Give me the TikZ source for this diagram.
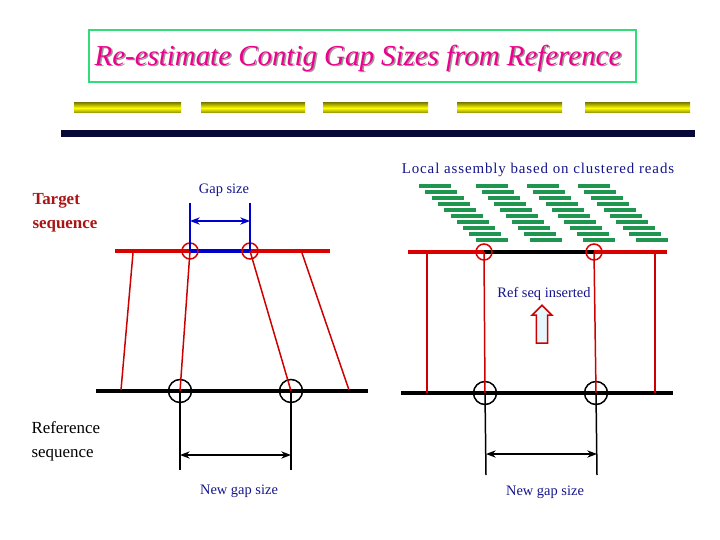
\documentclass[tikz,border=0pt]{standalone}
\usepackage{fontspec}
\setmainfont{Liberation Serif}
\usetikzlibrary{arrows.meta,shapes.arrows}
\definecolor{navy}{RGB}{20,20,140}
\definecolor{darkred}{RGB}{170,20,20}
\definecolor{readgreen}{RGB}{30,150,80}
\definecolor{titlegreen}{RGB}{50,220,120}
\tikzset{
  contig/.style={red!85!black,line width=4pt},
  refline/.style={black,line width=4pt},
  link/.style={red!80!black,line width=1.5pt},
  redring/.style={circle,draw=red!85!black,line width=1.5pt,minimum size=16bp,inner sep=0pt},
  blackring/.style={circle,draw=black,line width=1.5pt,minimum size=23bp,inner sep=0pt},
  label/.style={text=navy,font=\fontsize{14.5}{16}\selectfont},
  gap/.style={<->,>=Stealth}
}
\begin{document}
\begin{tikzpicture}[x=1bp,y=-1bp]
\useasboundingbox (0,0) rectangle (720,540);
% title
\node[draw=titlegreen,line width=2.5pt,minimum width=547bp,minimum height=52bp] (title) at (362.5,56) {};
\node[text=black!40,font=\fontsize{29}{30}\selectfont\itshape] at (359.5,59) {Re-estimate Contig Gap Sizes from Reference};
\node[text=magenta,font=\fontsize{29}{30}\selectfont\itshape] (titletext) at (358,58) {Re-estimate Contig Gap Sizes from Reference};
% yellow contigs and navy reference
\foreach \a/\b in {74/181,201/305,323/428,457/562,585/690}
  \shade[top color=yellow!55!black,bottom color=yellow!55!black,middle color=yellow] (\a,103) rectangle (\b,113);
\fill[navy!40!black] (61,130) rectangle (695,137);
% left panel
\node[text=darkred,font=\fontsize{17}{24}\selectfont\bfseries,align=left,anchor=north west] (target) at (29,190) {Target\\sequence};
\node[font=\fontsize{17}{24}\selectfont,align=left,anchor=north west] (refseq) at (28,418) {Reference\\sequence};
\draw[contig] (115,251) -- (330,251);
\draw[blue!80!black,line width=4pt] (190,251) -- (250,251);
\node[redring] (l1) at (190,251) {};
\node[redring] (l2) at (250,251) {};
\draw[refline] (96,391) -- (368,391);
\node[blackring] (lb1) at (180,391) {};
\node[blackring] (lb2) at (291,391) {};
\coordinate (la) at (133,253); \coordinate (lc) at (121,390);
\coordinate (ld) at (302,253); \coordinate (le) at (349,390);
\draw[link] (la) -- (lc);
\draw[link] (l1.center) -- (lb1.center);
\draw[link] (l2.center) -- (lb2.center);
\draw[link] (ld) -- (le);
\draw[blue!80!black,line width=1.5pt] (190,203) -- (l1.center) (250,203) -- (l2.center);
\draw[gap,blue!80!black,line width=1.5pt] (190,221) -- (250,221);
\node[label] (gapsize) at (224,190) {Gap size};
\draw[line width=1.5pt] (lb1.center) -- (180,470) (lb2.center) -- (291,470);
\draw[gap,line width=1.5pt] (180,455) -- (291,455);
\node[label] (newgap1) at (239,491) {New gap size};
% right panel
\node[label,font=\fontsize{15}{16}\selectfont\addfontfeature{LetterSpace=6}] (local) at (538,170) {Local assembly based on clustered reads};
\foreach \sx/\dx in {419/6.3,476/6.0,527/6.2,578/6.4}
  \foreach \i in {0,...,9}
    \draw[readgreen,line width=4pt] (\sx+\dx*\i,186+6*\i) -- ++(32,0);
\draw[contig] (408,252) -- (667,252);
\draw[refline] (484,252) -- (594,252);
\node[redring] (r1) at (484,252) {};
\node[redring] (r2) at (594,252) {};
\draw[refline] (401,393) -- (673,393);
\node[blackring] (rb1) at (485,393) {};
\node[blackring] (rb2) at (596,393) {};
\coordinate (ra) at (427,254); \coordinate (rc) at (427,393);
\coordinate (rd) at (655,254); \coordinate (re) at (655,393);
\draw[link] (ra) -- (rc);
\draw[link] (r1.center) -- (rb1.center);
\draw[link] (r2.center) -- (rb2.center);
\draw[link] (rd) -- (re);
\node[label] (inserted) at (544,294) {Ref seq inserted};
\node[single arrow,shape border rotate=90,draw=red!80!black,fill=cyan!10,line width=1.5pt,
  minimum height=38bp,minimum width=20bp,single arrow head extend=3bp,inner sep=3pt] (up) at (542,327) {};
\draw[line width=1.5pt] (rb1.center) -- (486,475) (rb2.center) -- (597,475);
\draw[gap,line width=1.5pt] (486,454) -- (597,454);
\node[label] (newgap2) at (545,492) {New gap size};
\end{tikzpicture}
\end{document}
